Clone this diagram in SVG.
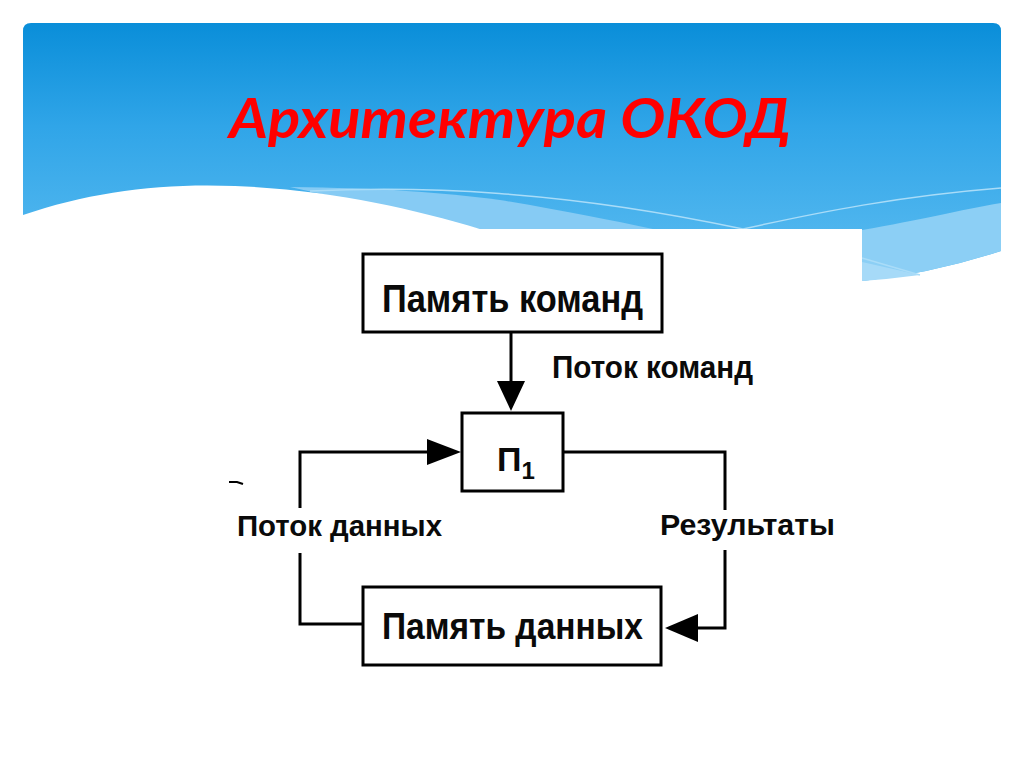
<svg xmlns="http://www.w3.org/2000/svg" width="1024" height="767" viewBox="0 0 1024 767">
  <defs>
    <linearGradient id="sky" x1="0" y1="23" x2="0" y2="282" gradientUnits="userSpaceOnUse">
      <stop offset="0" stop-color="#0a8ed9"/>
      <stop offset="0.4" stop-color="#30a5e8"/>
      <stop offset="1" stop-color="#5dbdf1"/>
    </linearGradient>
    <style>
      .box { fill: #ffffff; stroke: #000000; stroke-width: 3; }
      .wire { fill: none; stroke: #000000; stroke-width: 3; stroke-linejoin: miter; }
      .head { fill: #000000; stroke: none; }
      .lbl { font-family: "Liberation Sans", Arial, sans-serif; font-weight: bold; fill: #0a0a0a; }
      .title { font-family: Lato, "Liberation Sans", sans-serif; font-weight: bold; font-style: italic; fill: #ff0000; }
      .glint { fill: none; stroke: #a9dcf8; stroke-width: 1.5; }
    </style>
  </defs>

  <rect x="0" y="0" width="1024" height="767" fill="#ffffff"/>

  <!-- header background -->
  <g id="header">
    <path d="M23,31 Q23,23 31,23 H993 Q1001,23 1001,31 V251 Q930,274 862,281 H23 Z" fill="url(#sky)"/>
    <path d="M290,187 C380,188 440,192 500,200 C560,210 610,220 653,229 H480 Z" fill="#86cbf4"/>
    <path d="M862,230 C920,220 960,210 1001,203 V251 Q930,274 862,281 Z" fill="#8ccff5"/>
    <path d="M862,262 L920,275 Q890,279 862,281 Z" fill="#a6daf8"/>
    <path class="glint" d="M310,191 C420,186 560,190 743,229"/>
    <path class="glint" d="M743,229 C820,212 900,196 1001,188"/>
    <path class="glint" d="M862,258 L920,275"/>
    <path d="M23,215 C90,192 160,183 235,186 C330,190 410,208 480,229 H862 V300 H23 Z" fill="#ffffff"/>
    <rect x="23" y="229" width="839" height="80" fill="#ffffff"/>
    <text class="title" x="229" y="138" font-size="56" textLength="562" lengthAdjust="spacingAndGlyphs">Архитектура ОКОД</text>
  </g>

  <!-- connectors -->
  <g id="connectors">
    <line class="wire" x1="511" y1="332" x2="511" y2="384"/>
    <polygon class="head" points="497,381 525,381 511,411"/>
    <text class="lbl" x="552" y="378" font-size="31" textLength="201" lengthAdjust="spacingAndGlyphs">Поток команд</text>

    <polyline class="wire" points="300,508 300,452 430,452"/>
    <polygon class="head" points="427,439 461,452 427,465"/>
    <polyline class="wire" points="300,553 300,624 363,624"/>
    <text class="lbl" x="237" y="536" font-size="30" textLength="205" lengthAdjust="spacingAndGlyphs">Поток данных</text>

    <polyline class="wire" points="563,452 725,452 725,510"/>
    <polyline class="wire" points="725,550 725,628 695,628"/>
    <polygon class="head" points="698,614 665,628 698,642"/>
    <text class="lbl" x="660" y="535" font-size="30" textLength="175" lengthAdjust="spacingAndGlyphs">Результаты</text>

    <path d="M229,482 L237,482 L243,484" stroke="#000000" stroke-width="2.2" fill="none"/>
  </g>

  <g id="instr-memory">
    <rect class="box" x="363" y="254" width="299" height="78"/>
    <text class="lbl" x="382" y="312" font-size="38" textLength="261" lengthAdjust="spacingAndGlyphs">Память команд</text>
  </g>

  <g id="processor">
    <rect class="box" x="462" y="413" width="101" height="78"/>
    <text class="lbl" x="497" y="471" font-size="34">П<tspan font-size="24" dy="8">1</tspan></text>
  </g>

  <g id="data-memory">
    <rect class="box" x="363" y="587" width="298" height="78"/>
    <text class="lbl" x="382" y="639" font-size="37" textLength="261" lengthAdjust="spacingAndGlyphs">Память данных</text>
  </g>
</svg>
